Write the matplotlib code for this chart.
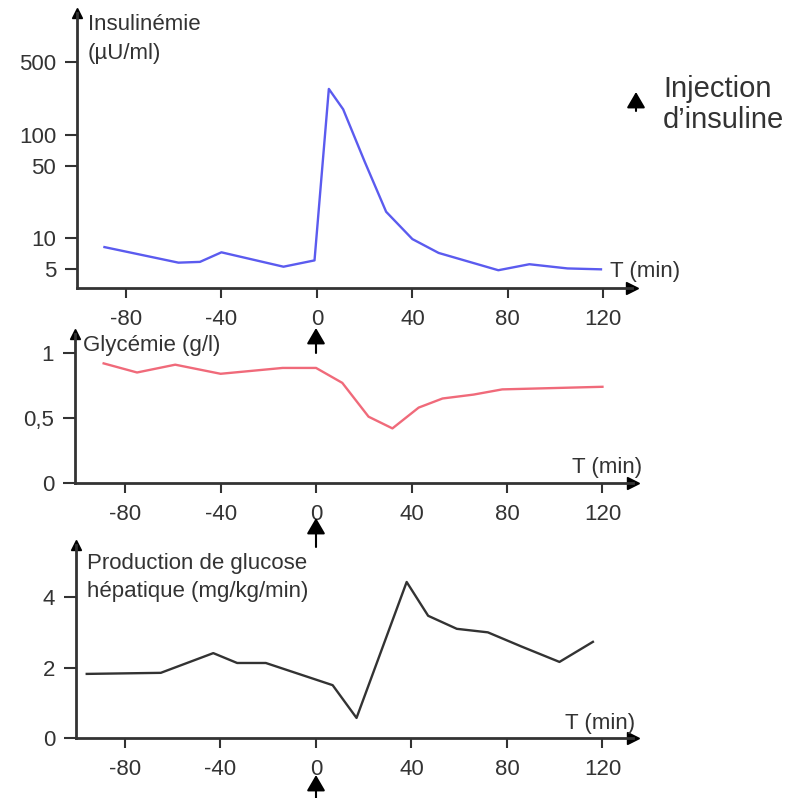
import matplotlib.pyplot as plt
from matplotlib.patches import FancyArrowPatch

plt.rcParams['font.family'] = ['Liberation Sans', 'DejaVu Sans']

# insulinemia (µU/ml), log scale
t_ins = [-89, -58, -49, -40, -14, -1, 5, 11, 20, 29, 40, 51, 76, 89, 105, 119]
v_ins = [8.2, 5.8, 5.9, 7.3, 5.3, 6.1, 277, 176, 55, 18, 9.8, 7.2, 4.9, 5.6, 5.1, 5.0]

# glycemia (g/l)
t_gly = [-89, -75, -59, -40, -14, 0, 11, 22, 32, 43, 53, 66, 78, 120]
v_gly = [0.92, 0.85, 0.91, 0.84, 0.885, 0.885, 0.77, 0.51, 0.42, 0.58, 0.65, 0.68, 0.72, 0.74]

# hepatic glucose production (mg/kg/min)
t_hgp = [-96, -65, -43, -33, -21, 7, 17, 38, 47, 59, 72, 86, 102, 116]
v_hgp = [1.82, 1.85, 2.41, 2.13, 2.13, 1.5, 0.57, 4.43, 3.47, 3.1, 3.0, 2.6, 2.16, 2.73]

x_ticks = [-80, -40, 0, 40, 80, 120]

W, H = 789, 798
fig = plt.figure(figsize=(W / 100, H / 100), dpi=100)
axc = '#333333'
fs = 16


def make_axes(x0, x1, ybot, ytop):
    # pixel coords (from top-left) -> figure fraction
    return fig.add_axes([x0 / W, 1 - ybot / H, (x1 - x0) / W, (ybot - ytop) / H])


def px_text(x, y, s, **kw):
    fig.text(x / W, 1 - y / H, s, color=axc, va='center', **kw)


def style(ax):
    for s in ['top', 'right']:
        ax.spines[s].set_visible(False)
    for s in ['left', 'bottom']:
        ax.spines[s].set_color(axc)
        ax.spines[s].set_linewidth(2)
    ax.tick_params(colors=axc, labelsize=fs, width=1.5, length=9, pad=6)
    ax.tick_params(axis='x', length=7, pad=8)
    ax.set_xticks(x_ticks)
    ax.set_xticklabels([str(t) for t in x_ticks])
    ax.plot(1, 0, '>', color='black', ms=8, transform=ax.transAxes, clip_on=False)
    ax.plot(0, 1, '^', color='black', ms=7, transform=ax.transAxes, clip_on=False)
    ax.patch.set_alpha(0)


# top panel
ax1 = make_axes(77, 632, 288, 13)
ax1.plot(t_ins, v_ins, color='#5b5bef', lw=1.7)
ax1.set_yscale('log')
ax1.set_xlim(-100.5, 132)
ax1.set_ylim(3.3, 1500)
ax1.set_yticks([5, 10, 50, 100, 500])
ax1.set_yticklabels(['5', '10', '50', '100', '500'])
ax1.minorticks_off()
style(ax1)
px_text(88, 24, 'Insulinémie', fontsize=fs)
px_text(88, 54, '(µU/ml)', fontsize=fs)
px_text(610, 271, 'T (min)', fontsize=fs)

# middle panel
ax2 = make_axes(75, 633, 483, 334)
ax2.plot(t_gly, v_gly, color='#f06a7a', lw=1.7)
ax2.set_xlim(-101, 132.8)
ax2.set_ylim(0, 1.146)
ax2.set_yticks([0, 0.5, 1])
ax2.set_yticklabels(['0', '0,5', '1'])
style(ax2)
px_text(83, 346, 'Glycémie (g/l)', fontsize=fs)
px_text(572, 467, 'T (min)', fontsize=fs)

# bottom panel
ax3 = make_axes(76, 633, 738, 545)
ax3.plot(t_hgp, v_hgp, color='#333333', lw=1.7)
ax3.set_xlim(-100.5, 132.8)
ax3.set_ylim(0, 5.48)
ax3.set_yticks([0, 2, 4])
style(ax3)
px_text(87, 563, 'Production de glucose', fontsize=fs)
px_text(87, 592, 'hépatique (mg/kg/min)', fontsize=fs)
px_text(565, 723, 'T (min)', fontsize=fs)


def injection_arrow(x, ytip, ytail):
    fig.patches.append(FancyArrowPatch(
        (x / W, 1 - ytail / H), (x / W, 1 - ytip / H), transform=fig.transFigure,
        arrowstyle='-|>,head_length=6,head_width=3.5', color='black', lw=1.5,
        mutation_scale=1.6, shrinkA=0, shrinkB=0))


injection_arrow(316, 328, 353)
injection_arrow(316, 518, 547)
injection_arrow(316, 775, 798)
injection_arrow(636, 92, 111)

px_text(663, 89, 'Injection', fontsize=21)
px_text(663, 120, 'd\u2019insuline', fontsize=21)

fig.savefig('out.png', dpi=100)
